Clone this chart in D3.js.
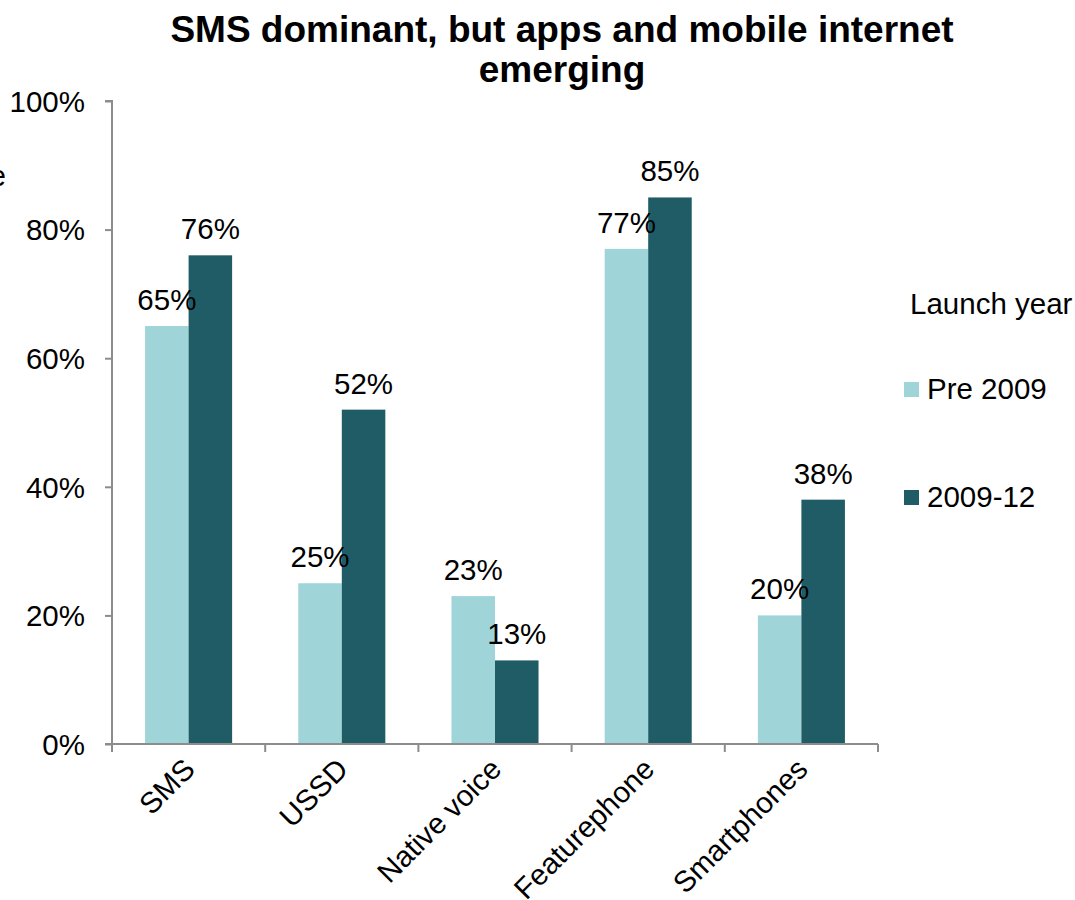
<!DOCTYPE html>
<html>
<head>
<meta charset="utf-8">
<script src="https://cdn.jsdelivr.net/npm/d3@7"></script>
<style>
  html, body { margin: 0; padding: 0; background: #fff; }
  svg text { font-family: "Liberation Sans", Arial, sans-serif; fill: #000; }
</style>
</head>
<body>
<svg id="chart" width="1075" height="900"></svg>
<script>
// Channel usage by launch year (share of services, %)
const categories = ["SMS", "USSD", "Native voice", "Featurephone", "Smartphones"];
const seriesNames = ["Pre 2009", "2009-12"];
const pre2009 = [65, 25, 23, 77, 20];
const y2009to12 = [76, 52, 13, 85, 38];
const yTicks = [0, 20, 40, 60, 80, 100];
const colors = ["#9fd4d8", "#1f5c66"];

const svg = d3.select("#chart");
const margin = { left: 112, right: 197, top: 101, bottom: 156 };
const W = 1075, H = 900;
const FS = "29.5px";

const x = d3.scaleBand().domain(categories).range([margin.left, W - margin.right]).paddingInner(0).paddingOuter(0);
const inner = d3.scaleBand().domain(seriesNames).range([0, x.bandwidth()]).paddingInner(0).paddingOuter(0.76);
const y = d3.scaleLinear().domain([0, 100]).range([H - margin.bottom, margin.top]);

const rows = categories.map((c, i) => ({ cat: c, vals: [pre2009[i], y2009to12[i]] }));

// Title
svg.append("text").attr("x", 562).attr("y", 42).attr("text-anchor", "middle")
  .style("font-size", "37px").style("font-weight", "bold")
  .text("SMS dominant, but apps and mobile internet");
svg.append("text").attr("x", 562).attr("y", 82).attr("text-anchor", "middle")
  .style("font-size", "37px").style("font-weight", "bold")
  .text("emerging");

// Axis title (runs off the left edge)
svg.append("text").attr("x", 6).attr("y", 186).attr("text-anchor", "end")
  .style("font-size", FS).text("Share");

// Bars
const groups = svg.append("g").selectAll("g").data(rows).join("g")
  .attr("transform", d => `translate(${x(d.cat)},0)`);
groups.selectAll("rect").data(d => d.vals.map((v, j) => ({ v, s: seriesNames[j], j })))
  .join("rect")
  .attr("x", d => inner(d.s))
  .attr("width", inner.bandwidth())
  .attr("y", d => y(d.v))
  .attr("height", d => y(0) - y(d.v))
  .attr("fill", d => colors[d.j]);

// Value labels
groups.selectAll("text.val").data(d => d.vals.map((v, j) => ({ v, s: seriesNames[j], j })))
  .join("text").attr("class", "val")
  .attr("x", d => inner(d.s) + inner.bandwidth() / 2)
  .attr("y", d => y(d.v) - 16)
  .attr("text-anchor", "middle")
  .style("font-size", FS)
  .text(d => d.v + "%");

// Y axis
const yAxis = svg.append("g").attr("transform", `translate(${margin.left},0)`)
  .call(d3.axisLeft(y).tickValues(yTicks).tickFormat(d => d + "%").tickSize(7).tickPadding(20));
yAxis.select(".domain").attr("stroke", "#8c8c8c").attr("stroke-width", 2).attr("d", `M-7,${y(100)}H0V${y(0)}`);
yAxis.selectAll(".tick line").attr("stroke", "#8c8c8c").attr("stroke-width", 2);
yAxis.selectAll(".tick text").style("font-size", FS).attr("dy", "0.35em").attr("fill", "#000");

// X axis
const xAxis = svg.append("g").attr("transform", `translate(0,${y(0)})`)
  .call(d3.axisBottom(x).tickSize(0).tickFormat(""));
xAxis.select(".domain").attr("stroke", "#8c8c8c").attr("stroke-width", 2)
  .attr("d", `M${margin.left - 7},0H${W - margin.right}`);
xAxis.selectAll(".tick").remove();
const bounds = categories.map(c => x(c)).concat([x(categories[categories.length - 1]) + x.bandwidth()]);
xAxis.selectAll("line.bt").data(bounds).join("line").attr("class", "bt")
  .attr("x1", d => d).attr("x2", d => d).attr("y1", 0).attr("y2", 8)
  .attr("stroke", "#8c8c8c").attr("stroke-width", 2);

// Category labels, rotated
svg.append("g").selectAll("text").data(categories).join("text")
  .attr("transform", d => `translate(${x(d) + x.bandwidth() / 2 + 8},${y(0) + 27}) rotate(-45)`)
  .attr("text-anchor", "end")
  .style("font-size", FS)
  .text(d => d);

// Legend
const lg = svg.append("g");
lg.append("text").attr("x", 910).attr("y", 314).style("font-size", FS).text("Launch year");
const items = lg.selectAll("g").data(seriesNames).join("g")
  .attr("transform", (d, i) => `translate(904,${389 + i * 108})`);
items.append("rect").attr("x", 0).attr("y", -7).attr("width", 15).attr("height", 15)
  .attr("fill", (d, i) => colors[i]);
items.append("text").attr("x", 23).attr("y", 10).style("font-size", FS).text(d => d);
</script>
</body>
</html>
